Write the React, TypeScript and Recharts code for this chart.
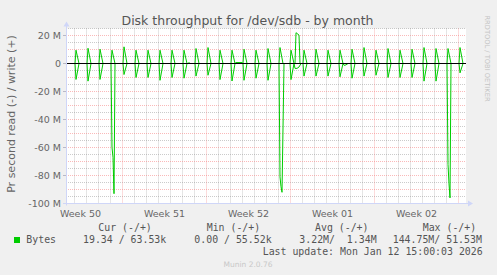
import React from 'react';
import { LineChart, Line, XAxis, YAxis, ReferenceLine, CartesianGrid } from 'recharts';

// Hours are counted from Monday 2025-12-08 00:00 (start of Week 50)
const weekLabels = ['Week 50', 'Week 51', 'Week 52', 'Week 01', 'Week 02'];
const weekMidHours = [84, 252, 420, 588, 756];
const mondayHours = [168, 336, 504, 672, 840];
const yTicks = [20, 10, 0, -10, -20, -30, -40, -50, -60, -70, -80, -90, -100];
const yMajorGrid = [20, 10, -10, -20, -30, -40, -50, -60, -70, -80, -90];
const yMinorGrid = [25, 15, 5, -5, -15, -25, -35, -45, -55, -65, -75, -85, -95];

// daily backup spikes (hour of the sample, write peak in M, read trough in M)
const spikeHours = [75, 99, 123, 147, 171, 195, 219, 243, 267, 291, 315, 339, 363, 387, 411, 435, 459, 483, 505, 531, 555, 579, 603, 627, 651, 675, 699, 723, 747, 771, 795, 819, 843];
const writePeakM = [9.5, 10.9, 10.2, 9.5, 11.9, 9.5, 9.5, 9.5, 9.5, 9.5, 10.7, 11.4, 9.5, 9.5, 10.2, 9.5, 10.7, 11.4, 9.5, 9.5, 10.2, 9.5, 9.5, 10.2, 11.4, 9.5, 10.7, 9.5, 10.2, 11.4, 10.7, 10.7, 11.4];
const readPeakM: (number | null)[] = [-11.4, -12.6, -11.4, null, -7.9, -10, -10, -12, -10, -10.5, -9, -8.4, -11.5, -12.5, -12, -10.5, -12, null, -11.5, -9, -9, -9, -9.5, -10.5, -9, -8.4, -10, -10, -10, -12.6, -12.6, null, -6.7];

// large read bursts
const bigReadHours = [145, 147, 149, 151, 153, 481, 483, 485, 487, 491, 817, 819, 821, 823, 825];
const bigReadM = [0, -60, -67, -93, 0, 0, -81, -88, -92, 0, 0, -72, -86, -96, 0];
// other small read activity
const extraReadHours = [513, 517, 521, 525, 611, 615, 619];
const extraReadM = [-3.5, -3.5, -2.5, 0, -1.3, -1, 0];
// other write activity
const extraWriteHours = [299, 301, 303, 395, 407, 513, 515, 521, 523];
const extraWriteM = [0, 0.7, 0, 0.7, 0.7, 0, 22, 20.3, 0];

type P = { h: number; v: number };
function buildSeries(peaks: (number | null)[], extraH: number[], extraV: number[]): P[] {
  const pts: P[] = [];
  spikeHours.forEach((h, i) => {
    const p = peaks[i];
    if (p == null) return;
    pts.push({ h: h - 2, v: 0 }, { h, v: p }, { h: h + 6, v: 0 });
  });
  extraH.forEach((h, i) => pts.push({ h, v: extraV[i] }));
  pts.sort((a, b) => a.h - b.h);
  return pts;
}

const writeData = buildSeries(writePeakM, extraWriteHours, extraWriteM);
const readData = buildSeries(readPeakM, [...bigReadHours, ...extraReadHours], [...bigReadM, ...extraReadM]);

const dayHours = Array.from({ length: 33 }, (_, i) => 72 + 24 * i).filter((h) => !mondayHours.includes(h));

const W = 497;
const H = 275;
const L = 66;
const T = 28.5;
const R = 466;
const B = 203.5;

const GREEN = '#00cc00';
const FONT = '#666666';
const AXIS = '#CFD6F8';
const MINOR = 'rgba(140,140,140,0.45)';
const MAJOR = 'rgba(245,128,128,0.55)';

const mono = 'DejaVu Sans Mono, monospace';
const sans = 'DejaVu Sans, sans-serif';

export default function App() {
  return (
    <div style={{ position: 'absolute', left: 0, top: 0, width: W, height: H, background: '#f0f0f0' }}>
      <LineChart
        width={W}
        height={H}
        margin={{ top: T, right: W - R, bottom: H - B - 30, left: L - 60 }}
      >
        <CartesianGrid fill="#ffffff" horizontal={false} vertical={false} />
        {yMinorGrid.map((v) => (
          <ReferenceLine key={'ym' + v} y={v} stroke={MINOR} strokeDasharray="1 1" />
        ))}
        {dayHours.map((h) => (
          <ReferenceLine key={'xm' + h} x={h} stroke={MINOR} strokeDasharray="1 1" />
        ))}
        {yMajorGrid.map((v) => (
          <ReferenceLine key={'yM' + v} y={v} stroke={MAJOR} strokeDasharray="1 1" />
        ))}
        {mondayHours.map((h) => (
          <ReferenceLine key={'xM' + h} x={h} stroke={MAJOR} strokeDasharray="1 1" />
        ))}
        <XAxis
          type="number"
          dataKey="h"
          domain={[55, 855]}
          ticks={weekMidHours}
          tickFormatter={(v: number) => weekLabels[weekMidHours.indexOf(v)] ?? ''}
          axisLine={false}
          tickLine={false}
          tickSize={4}
          tickMargin={3}
          height={30}
          allowDataOverflow
          tick={{ fontSize: 9.5, fill: FONT, fontFamily: sans }}
        />
        <YAxis
          type="number"
          domain={[-100, 25]}
          ticks={yTicks}
          allowDataOverflow
          width={60}
          axisLine={false}
          tickSize={3}
          tickMargin={2}
          tickLine={{ stroke: '#b8b8c8' }}
          tickFormatter={(v: number) => (v === 0 ? '0' : `${v} M`)}
          tick={{ fontSize: 9.5, fill: FONT, fontFamily: sans }}
        />
        <Line data={readData} dataKey="v" type="linear" stroke={GREEN} strokeWidth={1} dot={false} isAnimationActive={false} />
        <Line data={writeData} dataKey="v" type="linear" stroke={GREEN} strokeWidth={1} dot={false} isAnimationActive={false} />
        <ReferenceLine y={0} stroke="#000000" strokeWidth={1} />
      </LineChart>
      <svg
        width={W}
        height={H}
        style={{ position: 'absolute', left: 0, top: 0, pointerEvents: 'none' }}
      >
        {/* axes with arrows */}
        <line x1={L + 0.5} y1={B + 2} x2={L + 0.5} y2={T - 4} stroke={AXIS} strokeWidth={1} />
        <polygon points={`${L - 2.5},${T - 2} ${L + 3.5},${T - 2} ${L + 0.5},${T - 7}`} fill={AXIS} />
        <line x1={L - 3} y1={B} x2={R + 4} y2={B} stroke={AXIS} strokeWidth={1} />
        <polygon points={`${R + 2},${B - 3} ${R + 2},${B + 3} ${R + 7},${B}`} fill={AXIS} />

        <text x={247.5} y={24.5} textAnchor="middle" fontFamily={sans} fontSize={12.5} fill="#555555">
          Disk throughput for /dev/sdb - by month
        </text>
        <text
          x={14.5}
          y={114}
          textAnchor="middle"
          fontFamily={sans}
          fontSize={11}
          fill={FONT}
          transform="rotate(-90 14.5 114)"
        >
          Pr second read (-) / write (+)
        </text>
        <text
          x={485}
          y={58.5}
          textAnchor="middle"
          fontFamily={sans}
          fontSize={6.7}
          fill="#c4c4c4"
          transform="rotate(90 485 58.5)"
        >
          RRDTOOL / TOBI OETIKER
        </text>

        <g fontFamily={mono} fontSize={9.9} fill="#555555">
          <text x={98.3} y={231}>Cur (-/+)</text>
          <text x={206.7} y={231}>Min (-/+)</text>
          <text x={315} y={231}>Avg (-/+)</text>
          <text x={422.7} y={231}>Max (-/+)</text>
          <text x={26.3} y={243}>Bytes</text>
          <text x={83} y={243}>19.34 / 63.53k</text>
          <text x={194.3} y={243}>0.00 / 55.52k</text>
          <text x={299.3} y={243} xmlSpace="preserve" style={{ whiteSpace: 'pre' }}>{'3.22M/  1.34M'}</text>
          <text x={392.7} y={243}>144.75M/ 51.53M</text>
          <text x={482.7} y={255.3} textAnchor="end">Last update: Mon Jan 12 15:00:03 2026</text>
        </g>
        <rect x={14} y={237} width={6} height={6} fill={GREEN} />
        <text x={248} y={266.7} textAnchor="middle" fontFamily={sans} fontSize={7.5} fill="#c8c8c8">
          Munin 2.0.76
        </text>
      </svg>
    </div>
  );
}
